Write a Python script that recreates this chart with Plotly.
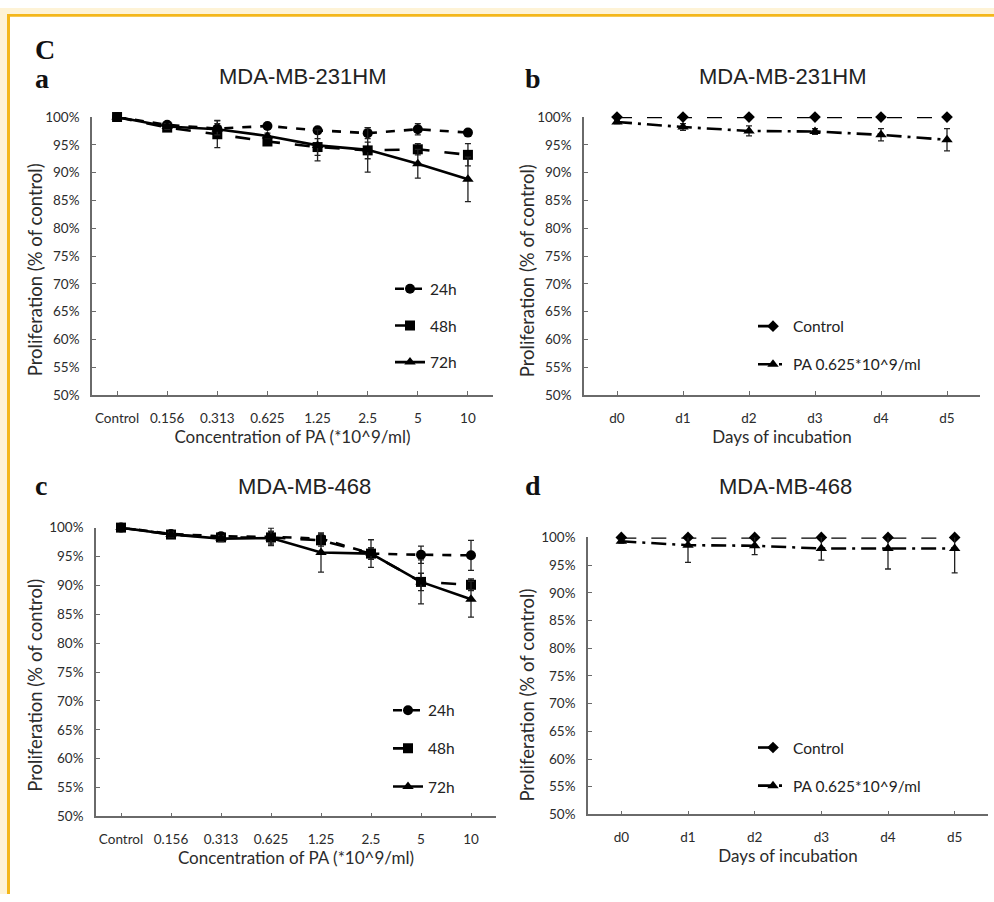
import plotly.graph_objects as go

W, H = 994, 902

# ---------------- data ----------------
conc_labels = ["Control", "0.156", "0.313", "0.625", "1.25", "2.5", "5", "10"]
day_labels = ["d0", "d1", "d2", "d3", "d4", "d5"]

# Panel a: MDA-MB-231HM, concentration
a_24h = [100, 98.6, 97.9, 98.4, 97.6, 97.1, 97.8, 97.2]
a_24h_err = [0, 0.5, 1.5, 0.5, 0.5, 1.0, 1.0, 0.5]
a_48h = [100, 98.1, 96.9, 95.6, 94.6, 94.0, 94.2, 93.2]
a_48h_err = [0, 0.5, 2.4, 0.5, 1.5, 1.5, 1.0, 2.0]
a_72h = [100, 98.3, 97.8, 96.6, 94.9, 94.1, 91.6, 88.8]
a_72h_err = [0, 0.5, 1.0, 0.5, 2.8, 4.0, 2.6, 4.0]

# Panel b: MDA-MB-231HM, days
b_ctrl = [100, 100, 100, 100, 100, 100]
b_pa = [99.1, 98.2, 97.5, 97.4, 96.8, 95.9]
b_pa_err = [0.3, 0.6, 0.9, 0.5, 1.1, 2.0]

# Panel c: MDA-MB-468, concentration
c_24h = [100, 98.9, 98.5, 98.4, 98.1, 95.5, 95.3, 95.2]
c_24h_err = [0, 0.4, 0.6, 1.5, 0.8, 1.0, 1.5, 2.6]
c_48h = [100, 98.8, 98.3, 98.3, 97.8, 95.5, 90.6, 90.1]
c_48h_err = [0, 0.4, 0.5, 1.0, 1.0, 1.0, 1.5, 1.0]
c_72h = [100, 98.8, 98.1, 98.2, 95.7, 95.5, 90.6, 87.6]
c_72h_err = [0, 0.4, 0.5, 1.2, 3.4, 2.4, 3.8, 3.1]

# Panel d: MDA-MB-468, days
d_ctrl = [100, 100, 100, 100, 100, 100]
d_pa = [99.3, 98.6, 98.5, 98.0, 98.0, 98.0]
d_pa_err = [0.3, 3.1, 1.6, 2.1, 3.7, 4.4]

y_ticks = [50, 55, 60, 65, 70, 75, 80, 85, 90, 95, 100]

# ---------------- style ----------------
AX = "#6a6a6a"
TXT = "#2b2b2b"
LFONT = "Lato"


def xd(x0, x1):
    return [x0 / W, x1 / W]


def yd(ytop, ybot):
    return [1 - ybot / H, 1 - ytop / H]


fig = go.Figure()


def add_series(x, y, err, name, symbol, dash, xa, ya, legend, msize=10):
    fig.add_trace(go.Scatter(
        x=x, y=y, name=name, mode="lines+markers",
        line=dict(color="black", width=2.6, dash=dash),
        marker=dict(symbol=symbol, size=msize, color="black"),
        error_y=dict(type="data", array=err, visible=True, color="#222",
                     thickness=1.3, width=3),
        xaxis=xa, yaxis=ya, legend=legend, legendgroup=name + legend,
        cliponaxis=False,
    ))


add_series(conc_labels, a_24h, a_24h_err, "24h", "circle", "dash", "x", "y", "legend")
add_series(conc_labels, a_48h, a_48h_err, "48h", "square", "longdash", "x", "y", "legend")
add_series(conc_labels, a_72h, a_72h_err, "72h", "triangle-up", "solid", "x", "y", "legend")

add_series(day_labels, b_ctrl, [0] * 6, "Control", "diamond", "longdash", "x2", "y2", "legend2", 9)
add_series(day_labels, b_pa, b_pa_err, "PA 0.625*10^9/ml", "triangle-up", "longdashdot", "x2", "y2", "legend2")

add_series(conc_labels, c_24h, c_24h_err, "24h", "circle", "dash", "x3", "y3", "legend3")
add_series(conc_labels, c_48h, c_48h_err, "48h", "square", "longdash", "x3", "y3", "legend3")
add_series(conc_labels, c_72h, c_72h_err, "72h", "triangle-up", "solid", "x3", "y3", "legend3")

add_series(day_labels, d_ctrl, [0] * 6, "Control", "diamond", "longdash", "x4", "y4", "legend4", 9)
add_series(day_labels, d_pa, d_pa_err, "PA 0.625*10^9/ml", "triangle-up", "longdashdot", "x4", "y4", "legend4")


def xaxis(dom, anchor, cats, title):
    return dict(domain=dom, anchor=anchor, type="category", categoryorder="array",
                categoryarray=cats, range=[-0.5, len(cats) - 0.5],
                showline=True, linecolor=AX, linewidth=1.6, mirror=False,
                ticks="inside", ticklen=4, tickcolor=AX, tickwidth=1,
                showgrid=False, zeroline=False, ticklabelstandoff=10,
                tickfont=dict(family=LFONT, size=13.5, color=TXT),
                title=dict(text=title, font=dict(family=LFONT, size=17, color=TXT), standoff=5))


def yaxis(dom, anchor):
    return dict(domain=dom, anchor=anchor, range=[50, 100],
                tickvals=y_ticks, ticktext=[f"{v}%" for v in y_ticks],
                showline=True, linecolor=AX, linewidth=1.6,
                ticks="inside", ticklen=4, tickcolor=AX, tickwidth=1,
                showgrid=False, zeroline=False, ticklabelstandoff=8,
                tickfont=dict(family=LFONT, size=13.5, color=TXT))


fig.update_layout(
    xaxis=xaxis(xd(92, 493), "y", conc_labels, "Concentration of PA (*10^9/ml)"),
    yaxis=yaxis(yd(111, 394), "x"),
    xaxis2=xaxis(xd(584, 980), "y2", day_labels, "Days of incubation"),
    yaxis2=yaxis(yd(111, 394), "x2"),
    xaxis3=xaxis(xd(96, 496), "y3", conc_labels, "Concentration of PA (*10^9/ml)"),
    yaxis3=yaxis(yd(529, 823), "x3"),
    xaxis4=xaxis(xd(588, 988), "y4", day_labels, "Days of incubation"),
    yaxis4=yaxis(yd(539, 821), "x4"),
)


def legend(x, ytop, gap):
    return dict(x=x / W, y=1 - ytop / H, xanchor="left", yanchor="top",
                bgcolor="rgba(0,0,0,0)", tracegroupgap=gap, itemwidth=30,
                font=dict(family=LFONT, size=15.5, color="#222"))


fig.update_layout(
    legend=legend(390, 269, 13.5),
    legend2=legend(753, 307, 15),
    legend3=legend(388, 698, 15),
    legend4=legend(753, 736, 15),
    showlegend=True,
)

ann = []
# chart titles
for x, y, t in [(302, 70, "MDA-MB-231HM"), (782, 70, "MDA-MB-231HM"),
                (304, 487, "MDA-MB-468"), (785, 487, "MDA-MB-468")]:
    ann.append(dict(x=x / W, y=1 - y / H, xref="paper", yref="paper", text=t,
                    showarrow=False, xanchor="center", yanchor="middle",
                    font=dict(family="Liberation Sans", size=22, color="#222")))
# y axis titles
ytitle = "Proliferation (% of control)"
for x, y in [(35, 267), (527, 268), (35, 690), (527, 700)]:
    ann.append(dict(x=x / W, y=1 - y / H, xref="paper", yref="paper", text=ytitle,
                    textangle=-90, showarrow=False, xanchor="center", yanchor="middle",
                    font=dict(family=LFONT, size=18.5, color=TXT)))
# panel letters
for x, y, t in [(33, 42, "C"), (33, 72, "a"), (523, 72, "b"), (33, 486, "c"), (523, 486, "d")]:
    ann.append(dict(x=x / W, y=1 - y / H, xref="paper", yref="paper", text=f"<b>{t}</b>",
                    showarrow=False, xanchor="left", yanchor="middle",
                    font=dict(family="Liberation Serif", size=28, color="#111")))

CREAM = "#FEF3D6"
GOLD = "#F4B71B"
shapes = [
    dict(type="rect", xref="paper", yref="paper", x0=0, x1=1, y0=1 - 6 / H, y1=1,
         fillcolor=CREAM, line=dict(width=0), layer="below"),
    dict(type="rect", xref="paper", yref="paper", x0=0, x1=7 / W, y0=0, y1=1,
         fillcolor=CREAM, line=dict(width=0), layer="below"),
    dict(type="rect", xref="paper", yref="paper", x0=7 / W, x1=1, y0=1 - 9 / H, y1=1 - 6 / H,
         fillcolor=GOLD, line=dict(width=0), layer="below"),
    dict(type="rect", xref="paper", yref="paper", x0=7 / W, x1=10 / W, y0=0, y1=1 - 6 / H,
         fillcolor=GOLD, line=dict(width=0), layer="below"),
]

fig.update_layout(
    width=W, height=H, margin=dict(l=0, r=0, t=0, b=0),
    paper_bgcolor="white", plot_bgcolor="white",
    annotations=ann, shapes=shapes,
)

fig.write_html("out.html")
